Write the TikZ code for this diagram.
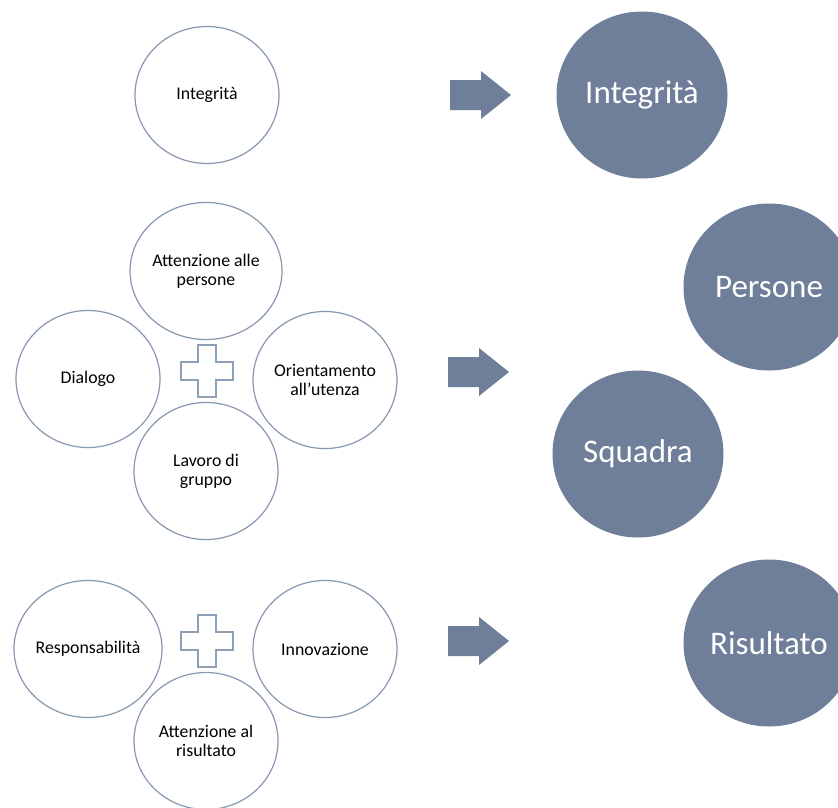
\documentclass[tikz,border=0pt]{standalone}
\usepackage{fontspec}
\setmainfont{Carlito}
\usetikzlibrary{shapes.geometric}
\definecolor{bigfill}{RGB}{111,126,153}
\definecolor{smallline}{RGB}{134,152,176}
\definecolor{plusline}{RGB}{142,160,182}
\begin{document}
\begin{tikzpicture}[x=1pt,y=-1pt,
  small/.style={ellipse, draw=smallline, line width=1.2pt, fill=white,
    minimum width=144pt, minimum height=137pt, inner sep=0pt,
    font=\fontsize{17.8}{19}\selectfont, align=center, text=black},
  big/.style={ellipse, fill=bigfill, minimum width=171pt, minimum height=167pt,
    inner sep=0pt, font=\fontsize{33}{38}\selectfont, text=white},
  blockarrow/.style={fill=bigfill},
  plussign/.style={draw=plusline, line width=2.2pt, fill=white, line join=miter}]
\useasboundingbox (0,0) rectangle (838,807);
\clip (0,0) rectangle (838,807);
\fill[white] (0,0) rectangle (838,807);

% row 1
\node[small] (integ) at (207,95) {Integrità};
\node[big] (Integ) at (642,95) {Integrità};

% row 2
\node[small] (attpers) at (206,271) {Attenzione alle\\persone};
\node[small] (dial) at (88,379) {Dialogo};
\node[small] (orient) at (325,380) {Orientamento\\all’utenza};
\node[small] (lavoro) at (206,471) {Lavoro di\\gruppo};
\node[big] (pers) at (769,287) {Persone};
\node[big] (squad) at (638,454) {Squadra};

% row 3
\node[small] (resp) at (88,649) {Responsabilità};
\node[small] (innov) at (325,649) {Innovazione};
\node[small] (attris) at (206,741) {Attenzione al\\risultato};
\node[big] (ris) at (769,643) {Risultato};

% plus signs
\coordinate (p1) at (207,371);
\coordinate (p2) at (207,641);
\foreach \p in {p1,p2}{
  \draw[plussign] ([shift={(-9,-26)}]\p) -- ++(18,0) -- ++(0,17) -- ++(17,0)
    -- ++(0,18) -- ++(-17,0) -- ++(0,17) -- ++(-18,0) -- ++(0,-17)
    -- ++(-17,0) -- ++(0,-18) -- ++(17,0) -- cycle;
}

% block arrows
\coordinate (a1) at (450,95);
\coordinate (a2) at (448,372);
\coordinate (a3) at (448,641);
\foreach \a in {a1,a2,a3}{
  \fill[blockarrow] ([shift={(0,-15)}]\a) -- ++(31,0) -- ++(0,-9) -- ++(30,24)
    -- ++(-30,24) -- ++(0,-9) -- ++(-31,0) -- cycle;
}
\end{tikzpicture}
\end{document}
